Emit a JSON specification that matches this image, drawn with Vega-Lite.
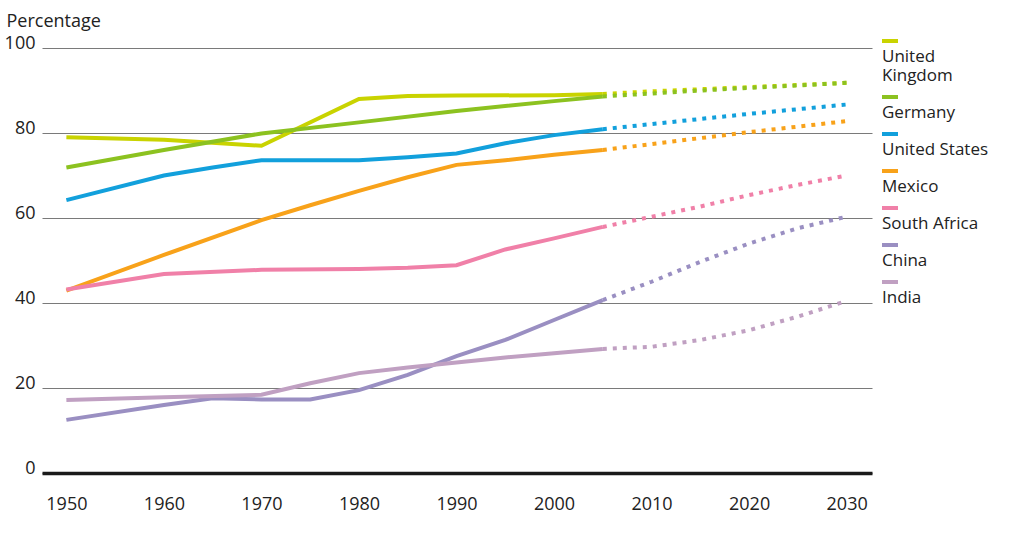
{
  "$schema": "https://vega.github.io/schema/vega-lite/v6.json",
  "width": 830,
  "height": 425,
  "autosize": {"type": "none"},
  "padding": {"left": 42, "top": 48, "right": 152, "bottom": 64},
  "background": "white",
  "config": {
    "font": "Open Sans",
    "view": {"stroke": null}
  },
  "data": {
    "values": [
      {"country": "United Kingdom", "year": 1950, "value": 79.0, "series": "actual"},
      {"country": "United Kingdom", "year": 1960, "value": 78.4, "series": "actual"},
      {"country": "United Kingdom", "year": 1970, "value": 77.0, "series": "actual"},
      {"country": "United Kingdom", "year": 1980, "value": 88.0, "series": "actual"},
      {"country": "United Kingdom", "year": 1985, "value": 88.7, "series": "actual"},
      {"country": "United Kingdom", "year": 1990, "value": 88.8, "series": "actual"},
      {"country": "United Kingdom", "year": 2000, "value": 88.9, "series": "actual"},
      {"country": "United Kingdom", "year": 2005, "value": 89.2, "series": "actual"},
      {"country": "Germany", "year": 1950, "value": 71.9, "series": "actual"},
      {"country": "Germany", "year": 1960, "value": 76.0, "series": "actual"},
      {"country": "Germany", "year": 1970, "value": 79.9, "series": "actual"},
      {"country": "Germany", "year": 1980, "value": 82.5, "series": "actual"},
      {"country": "Germany", "year": 1990, "value": 85.2, "series": "actual"},
      {"country": "Germany", "year": 2000, "value": 87.5, "series": "actual"},
      {"country": "Germany", "year": 2005, "value": 88.6, "series": "actual"},
      {"country": "United States", "year": 1950, "value": 64.2, "series": "actual"},
      {"country": "United States", "year": 1960, "value": 70.0, "series": "actual"},
      {"country": "United States", "year": 1965, "value": 71.9, "series": "actual"},
      {"country": "United States", "year": 1970, "value": 73.6, "series": "actual"},
      {"country": "United States", "year": 1980, "value": 73.6, "series": "actual"},
      {"country": "United States", "year": 1985, "value": 74.3, "series": "actual"},
      {"country": "United States", "year": 1990, "value": 75.2, "series": "actual"},
      {"country": "United States", "year": 1995, "value": 77.6, "series": "actual"},
      {"country": "United States", "year": 2000, "value": 79.5, "series": "actual"},
      {"country": "United States", "year": 2005, "value": 80.9, "series": "actual"},
      {"country": "Mexico", "year": 1950, "value": 42.9, "series": "actual"},
      {"country": "Mexico", "year": 1960, "value": 51.3, "series": "actual"},
      {"country": "Mexico", "year": 1970, "value": 59.5, "series": "actual"},
      {"country": "Mexico", "year": 1975, "value": 63.0, "series": "actual"},
      {"country": "Mexico", "year": 1980, "value": 66.4, "series": "actual"},
      {"country": "Mexico", "year": 1985, "value": 69.6, "series": "actual"},
      {"country": "Mexico", "year": 1990, "value": 72.5, "series": "actual"},
      {"country": "Mexico", "year": 1995, "value": 73.6, "series": "actual"},
      {"country": "Mexico", "year": 2000, "value": 74.9, "series": "actual"},
      {"country": "Mexico", "year": 2005, "value": 76.0, "series": "actual"},
      {"country": "South Africa", "year": 1950, "value": 43.2, "series": "actual"},
      {"country": "South Africa", "year": 1960, "value": 46.8, "series": "actual"},
      {"country": "South Africa", "year": 1970, "value": 47.8, "series": "actual"},
      {"country": "South Africa", "year": 1980, "value": 48.0, "series": "actual"},
      {"country": "South Africa", "year": 1985, "value": 48.3, "series": "actual"},
      {"country": "South Africa", "year": 1990, "value": 48.9, "series": "actual"},
      {"country": "South Africa", "year": 1995, "value": 52.6, "series": "actual"},
      {"country": "South Africa", "year": 2000, "value": 55.2, "series": "actual"},
      {"country": "South Africa", "year": 2005, "value": 57.9, "series": "actual"},
      {"country": "China", "year": 1950, "value": 12.5, "series": "actual"},
      {"country": "China", "year": 1960, "value": 16.0, "series": "actual"},
      {"country": "China", "year": 1965, "value": 17.6, "series": "actual"},
      {"country": "China", "year": 1970, "value": 17.3, "series": "actual"},
      {"country": "China", "year": 1975, "value": 17.3, "series": "actual"},
      {"country": "China", "year": 1980, "value": 19.5, "series": "actual"},
      {"country": "China", "year": 1985, "value": 23.1, "series": "actual"},
      {"country": "China", "year": 1990, "value": 27.5, "series": "actual"},
      {"country": "China", "year": 1995, "value": 31.3, "series": "actual"},
      {"country": "China", "year": 2000, "value": 36.0, "series": "actual"},
      {"country": "China", "year": 2005, "value": 40.7, "series": "actual"},
      {"country": "India", "year": 1950, "value": 17.2, "series": "actual"},
      {"country": "India", "year": 1960, "value": 17.8, "series": "actual"},
      {"country": "India", "year": 1970, "value": 18.4, "series": "actual"},
      {"country": "India", "year": 1975, "value": 21.1, "series": "actual"},
      {"country": "India", "year": 1980, "value": 23.5, "series": "actual"},
      {"country": "India", "year": 1985, "value": 24.8, "series": "actual"},
      {"country": "India", "year": 1990, "value": 26.0, "series": "actual"},
      {"country": "India", "year": 1995, "value": 27.2, "series": "actual"},
      {"country": "India", "year": 2000, "value": 28.2, "series": "actual"},
      {"country": "India", "year": 2005, "value": 29.2, "series": "actual"},
      {"country": "United Kingdom", "year": 2005, "value": 89.2, "series": "projection"},
      {"country": "United Kingdom", "year": 2010, "value": 89.8, "series": "projection"},
      {"country": "United Kingdom", "year": 2015, "value": 90.3, "series": "projection"},
      {"country": "United Kingdom", "year": 2020, "value": 90.8, "series": "projection"},
      {"country": "United Kingdom", "year": 2025, "value": 91.3, "series": "projection"},
      {"country": "United Kingdom", "year": 2030, "value": 91.8, "series": "projection"},
      {"country": "Germany", "year": 2005, "value": 88.6, "series": "projection"},
      {"country": "Germany", "year": 2010, "value": 89.3, "series": "projection"},
      {"country": "Germany", "year": 2015, "value": 90.0, "series": "projection"},
      {"country": "Germany", "year": 2020, "value": 90.6, "series": "projection"},
      {"country": "Germany", "year": 2025, "value": 91.2, "series": "projection"},
      {"country": "Germany", "year": 2030, "value": 91.8, "series": "projection"},
      {"country": "United States", "year": 2005, "value": 80.9, "series": "projection"},
      {"country": "United States", "year": 2010, "value": 82.1, "series": "projection"},
      {"country": "United States", "year": 2015, "value": 83.3, "series": "projection"},
      {"country": "United States", "year": 2020, "value": 84.5, "series": "projection"},
      {"country": "United States", "year": 2025, "value": 85.6, "series": "projection"},
      {"country": "United States", "year": 2030, "value": 86.7, "series": "projection"},
      {"country": "Mexico", "year": 2005, "value": 76.0, "series": "projection"},
      {"country": "Mexico", "year": 2010, "value": 77.4, "series": "projection"},
      {"country": "Mexico", "year": 2015, "value": 78.8, "series": "projection"},
      {"country": "Mexico", "year": 2020, "value": 80.2, "series": "projection"},
      {"country": "Mexico", "year": 2025, "value": 81.5, "series": "projection"},
      {"country": "Mexico", "year": 2030, "value": 82.8, "series": "projection"},
      {"country": "South Africa", "year": 2005, "value": 57.9, "series": "projection"},
      {"country": "South Africa", "year": 2010, "value": 60.3, "series": "projection"},
      {"country": "South Africa", "year": 2015, "value": 62.7, "series": "projection"},
      {"country": "South Africa", "year": 2020, "value": 65.4, "series": "projection"},
      {"country": "South Africa", "year": 2025, "value": 67.8, "series": "projection"},
      {"country": "South Africa", "year": 2030, "value": 70.0, "series": "projection"},
      {"country": "China", "year": 2005, "value": 40.7, "series": "projection"},
      {"country": "China", "year": 2010, "value": 45.0, "series": "projection"},
      {"country": "China", "year": 2015, "value": 49.7, "series": "projection"},
      {"country": "China", "year": 2020, "value": 54.0, "series": "projection"},
      {"country": "China", "year": 2025, "value": 57.6, "series": "projection"},
      {"country": "China", "year": 2030, "value": 60.3, "series": "projection"},
      {"country": "India", "year": 2005, "value": 29.2, "series": "projection"},
      {"country": "India", "year": 2010, "value": 29.7, "series": "projection"},
      {"country": "India", "year": 2015, "value": 31.3, "series": "projection"},
      {"country": "India", "year": 2020, "value": 33.6, "series": "projection"},
      {"country": "India", "year": 2025, "value": 36.8, "series": "projection"},
      {"country": "India", "year": 2030, "value": 40.5, "series": "projection"}
    ]
  },
  "encoding": {
    "x": {
      "field": "year",
      "type": "quantitative",
      "scale": {"domain": [1947.5, 2032.6], "nice": false, "zero": false},
      "axis": {
        "values": [1950, 1960, 1970, 1980, 1990, 2000, 2010, 2020, 2030],
        "format": "d",
        "title": null,
        "grid": false,
        "ticks": false,
        "domain": true,
        "domainColor": "#1a1a1a",
        "domainWidth": 3.5,
        "labelFontSize": 18,
        "labelColor": "#222222",
        "labelPadding": 22,
        "labelFont": "Open Sans"
      }
    },
    "y": {
      "field": "value",
      "type": "quantitative",
      "scale": {"domain": [0, 100], "nice": false},
      "axis": {
        "values": [0, 20, 40, 60, 80, 100],
        "title": "Percentage",
        "titleAngle": 0,
        "titleX": -36,
        "titleY": -22,
        "titleAlign": "left",
        "titleBaseline": "alphabetic",
        "titleFontSize": 18,
        "titleFontWeight": "normal",
        "titleColor": "#222222",
        "titleFont": "Open Sans",
        "grid": true,
        "gridColor": "#7a7a7a",
        "gridWidth": 1,
        "domain": false,
        "ticks": false,
        "labelFontSize": 18,
        "labelColor": "#222222",
        "labelPadding": 7,
        "labelBaseline": "alphabetic",
        "labelFont": "Open Sans"
      }
    },
    "color": {
      "field": "country",
      "type": "nominal",
      "scale": {
        "domain": ["United Kingdom", "Germany", "United States", "Mexico", "South Africa", "China", "India"],
        "range": ["#c9d300", "#8cc220", "#12a0dc", "#f8a21a", "#f080a8", "#9a8fc2", "#c0a0c2"]
      },
      "legend": {
        "orient": "none",
        "legendX": 838,
        "legendY": -9,
        "title": null,
        "padding": 0,
        "symbolType": "M-1,-1H1",
        "symbolSize": 256,
        "symbolStrokeWidth": 4,
        "labelFontSize": 17,
        "labelColor": "#222222",
        "labelFont": "Open Sans",
        "labelBaseline": "top",
        "labelOffset": -18,
        "labelLineHeight": 22,
        "labelLimit": 200,
        "rowPadding": 5,
        "labelExpr": "datum.label == 'United Kingdom' ? ['United', 'Kingdom'] : datum.label"
      }
    }
  },
  "layer": [
    {
      "transform": [{"filter": "datum.series == 'actual'"}],
      "mark": {"type": "line", "strokeWidth": 4, "strokeCap": "butt", "strokeJoin": "miter"}
    },
    {
      "transform": [{"filter": "datum.series == 'projection'"}],
      "mark": {"type": "line", "strokeWidth": 4, "strokeCap": "butt", "strokeDash": [4, 6]}
    }
  ]
}
